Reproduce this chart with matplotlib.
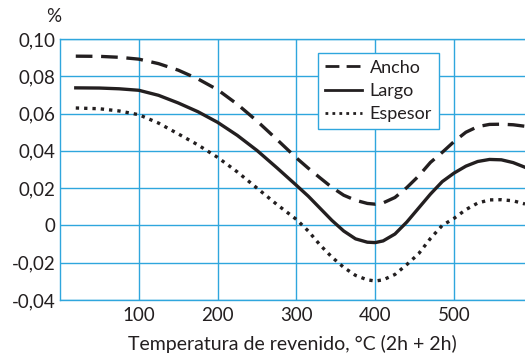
import matplotlib
matplotlib.use("Agg")
import matplotlib.pyplot as plt

# Data
temp = [20, 50, 75, 100, 125, 150, 175, 200, 225, 250, 275, 300, 315, 330,
        345, 360, 375, 390, 400, 410, 425, 440, 455, 470, 485, 500, 515, 530,
        545, 560, 575, 590]
ancho = [0.0908, 0.0907, 0.0902, 0.0892, 0.0868, 0.0833, 0.0786, 0.0728, 0.0650,
         0.0560, 0.0462, 0.0362, 0.0307, 0.0255, 0.0204, 0.0162, 0.0135, 0.0118,
         0.0114, 0.0121, 0.0150, 0.0203, 0.0265, 0.0338, 0.0392, 0.0450, 0.0500,
         0.0530, 0.0542, 0.0543, 0.0540, 0.0532]
largo = [0.0738, 0.0737, 0.0733, 0.0725, 0.0698, 0.0657, 0.0610, 0.0553, 0.0483,
         0.0402, 0.0310, 0.0215, 0.0157, 0.0092, 0.0027, -0.0030, -0.0072, -0.0090,
         -0.0092, -0.0083, -0.0046, 0.0018, 0.0093, 0.0168, 0.0235, 0.0281, 0.0318,
         0.0343, 0.0354, 0.0352, 0.0337, 0.0312]
espesor = [0.0630, 0.0626, 0.0614, 0.0594, 0.0549, 0.0491, 0.0432, 0.0365, 0.0287,
           0.0200, 0.0113, 0.0032, -0.0030, -0.0105, -0.0170, -0.0225, -0.0268,
           -0.0292, -0.0298, -0.0292, -0.0263, -0.0210, -0.0152, -0.0070, 0.0000,
           0.0038, 0.0085, 0.0120, 0.0137, 0.0138, 0.0132, 0.0115]

xticks = [100, 200, 300, 400, 500]
yticks = [-0.04, -0.02, 0, 0.02, 0.04, 0.06, 0.08, 0.10]
ylabels = ["-0,04", "-0,02", "0", "0,02", "0,04", "0,06", "0,08", "0,10"]

BLUE = "#2fa6dd"
INK = "#231f20"

plt.rcParams["font.family"] = ["Lato", "DejaVu Sans"]

fig = plt.figure(figsize=(5.25, 3.56), dpi=100)
ax = fig.add_axes([0.1143, 0.1573, 0.8857, 0.7331])

ax.plot(temp, ancho, color=INK, lw=2.4, dashes=(5.0, 2.6), label="Ancho")
ax.plot(temp, largo, color=INK, lw=2.4, label="Largo")
ax.plot(temp, espesor, color=INK, lw=2.4, dashes=(1.0, 1.5), label="Espesor")

ax.set_xlim(0, 590)
ax.set_ylim(-0.04, 0.10)
ax.set_xticks(xticks)
ax.set_xticklabels([str(t) for t in xticks])
ax.set_yticks(yticks)
ax.set_yticklabels(ylabels)
ax.tick_params(axis="y", length=0, labelsize=13.5, labelcolor=INK, pad=3)
ax.tick_params(axis="x", length=0, labelsize=13.5, labelcolor=INK, pad=5)
ax.grid(True, color=BLUE, lw=1.0)
ax.set_axisbelow(True)

for side in ["left", "bottom", "top"]:
    ax.spines[side].set_color(BLUE)
    ax.spines[side].set_linewidth(1.0)
ax.spines["right"].set_visible(False)

ax.set_xlabel("Temperatura de revenido, °C (2h + 2h)", fontsize=14,
              color=INK, labelpad=8)
fig.text(0.103, 0.955, "%", fontsize=13.5, color=INK, ha="center", va="center")

leg = ax.legend(loc="upper left", bbox_to_anchor=(0.555, 0.948), fontsize=13,
                frameon=True, fancybox=False, handlelength=2.05,
                handletextpad=0.4, labelspacing=0.4, borderpad=0.4,
                borderaxespad=0)
leg.get_frame().set_edgecolor(BLUE)
leg.get_frame().set_linewidth(1.0)
leg.get_frame().set_alpha(1.0)
for t in leg.get_texts():
    t.set_color(INK)
for h in leg.get_lines():
    h.set_linewidth(2.0)

fig.savefig("out.png", dpi=100)
